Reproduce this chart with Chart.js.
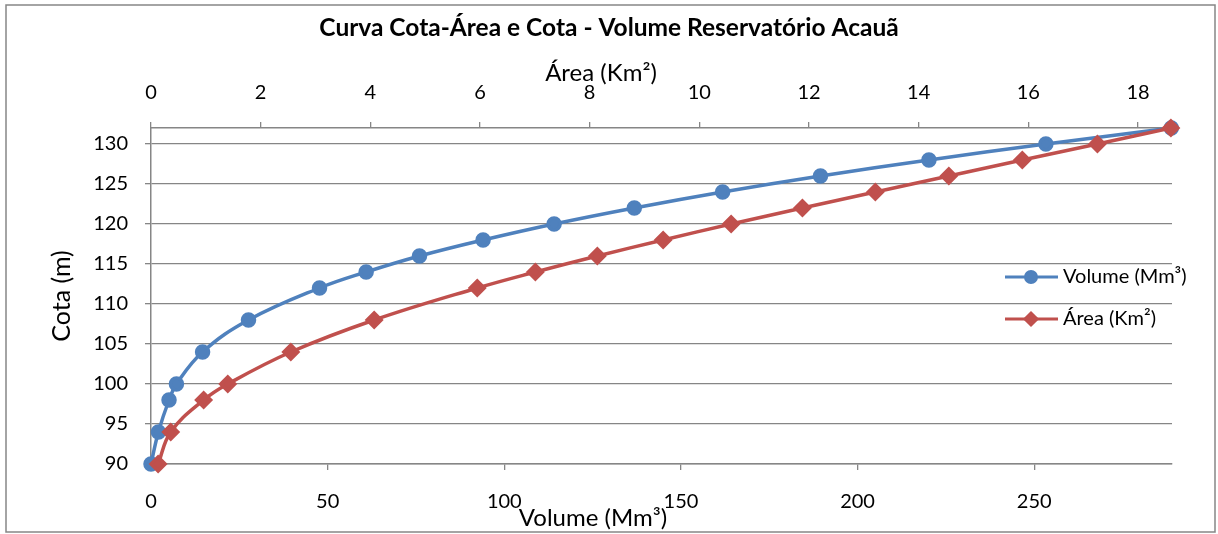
<!DOCTYPE html>
<html><head><meta charset="utf-8">
<script src="https://cdn.jsdelivr.net/npm/chart.js@4"></script>
<style>html,body{margin:0;padding:0;background:#fff}#wrap{position:relative;width:1218px;height:534px}</style>
</head><body><div id="wrap"><canvas id="c" width="1218" height="534"></canvas></div>
<script>
const chartTitle = 'Curva Cota-Área e Cota - Volume Reservatório Acauã';
const cota = [90, 94, 98, 100, 104, 108, 112, 114, 116, 118, 120, 122, 124, 126, 128, 130, 132];
const volume = [0, 2.1, 5.1, 7.2, 14.6, 27.6, 47.7, 60.9, 76.0, 94.0, 114.1, 136.8, 161.8, 189.5, 220.2, 253.3, 288.8];
const area = [0.13, 0.36, 0.96, 1.40, 2.55, 4.07, 5.95, 7.01, 8.14, 9.34, 10.58, 11.88, 13.21, 14.55, 15.89, 17.26, 18.6];
const volumeTicks = [0, 50, 100, 150, 200, 250];
const areaTicks = [0, 2, 4, 6, 8, 10, 12, 14, 16, 18];
const cotaTicks = [90, 95, 100, 105, 110, 115, 120, 125, 130];
const seriesLabels = ['Volume (Mm³)', 'Área (Km²)'];
const axisTitles = {x: 'Volume (Mm³)', x2: 'Área (Km²)', y: 'Cota (m)'};

const BLUE = '#4F81BD', RED = '#C0504D', GRID = '#868686';
const FONT = 'Lato';
Chart.defaults.font.family = FONT;
Chart.defaults.color = '#000';

const frame = {
  id: 'frame',
  beforeDraw(chart) {
    const c = chart.ctx;
    c.save();
    c.fillStyle = '#fff';
    c.fillRect(0, 0, chart.width, chart.height);
    c.strokeStyle = GRID; c.lineWidth = 1.5;
    c.strokeRect(6, 5, 1209, 527);
    c.restore();
  }
};

// Horizontal axis titles, placed like the original (slightly left of the plot centre)
const axisTitlePlugin = {
  id: 'axisTitles',
  afterDraw(chart) {
    const c = chart.ctx;
    c.save();
    c.fillStyle = '#000';
    c.font = '24px ' + FONT;
    c.textAlign = 'center'; c.textBaseline = 'middle';
    c.fillText(chart.scales.x2.options.title.text, 601, 73);
    c.fillText(chart.scales.x.options.title.text, 593, 518);
    c.restore();
  }
};

const legendPlugin = {
  id: 'customLegend',
  afterDraw(chart) {
    const c = chart.ctx;
    const ys = [277, 319];
    chart.data.datasets.forEach((ds, i) => {
      const y = ys[i];
      c.save();
      c.strokeStyle = ds.borderColor; c.lineWidth = 3;
      c.beginPath(); c.moveTo(1005, y); c.lineTo(1058, y); c.stroke();
      c.fillStyle = ds.borderColor; c.strokeStyle = ds.borderColor;
      Chart.helpers.drawPoint(c, {pointStyle: ds.pointStyle, radius: i === 0 ? 5.5 : 6, borderWidth: 1}, 1031, y);
      c.fill();
      c.fillStyle = '#000';
      c.font = '20px ' + FONT;
      c.textAlign = 'left'; c.textBaseline = 'middle';
      c.fillText(ds.label, 1063, y);
      c.restore();
    });
  }
};

const setTicks = (arr) => (scale) => { scale.ticks = arr.map(v => ({value: v})); };

new Chart(document.getElementById('c'), {
  type: 'line',
  data: {
    datasets: [
      {
        label: seriesLabels[0],
        data: cota.map((y, i) => ({x: volume[i], y})),
        xAxisID: 'x', yAxisID: 'y',
        borderColor: BLUE, backgroundColor: BLUE,
        pointBackgroundColor: BLUE, pointBorderColor: BLUE,
        borderWidth: 3.5, pointRadius: 6, pointStyle: 'circle',
        tension: 0.4, clip: false, order: 1
      },
      {
        label: seriesLabels[1],
        data: cota.map((y, i) => ({x: area[i], y})),
        xAxisID: 'x2', yAxisID: 'y',
        borderColor: RED, backgroundColor: RED,
        pointBackgroundColor: RED, pointBorderColor: RED,
        borderWidth: 3.5, pointRadius: 7, pointStyle: 'rectRot',
        tension: 0.4, clip: false, order: 0
      }
    ]
  },
  options: {
    responsive: false, animation: false, devicePixelRatio: 1,
    layout: {padding: {left: 0, top: 0, right: 0, bottom: 0}},
    plugins: {
      legend: {display: false},
      tooltip: {enabled: false},
      title: {display: true, text: chartTitle, font: {size: 24.5, weight: 'bold', family: FONT, lineHeight: 1.2}, color: '#000', padding: {top: 13.7, bottom: 0}}
    },
    scales: {
      x: {
        type: 'linear', position: 'bottom', min: 0, max: 289,
        afterBuildTicks: setTicks(volumeTicks),
        afterFit: (s) => { s.height = 70; },
        grid: {drawOnChartArea: false, drawTicks: true, tickLength: 6, color: GRID, lineWidth: 1.3},
        border: {color: GRID, width: 1.5},
        ticks: {font: {size: 20, lineHeight: 1.2}, padding: 20, maxRotation: 0, color: '#000'},
        title: {display: false, text: axisTitles.x}
      },
      x2: {
        type: 'linear', position: 'top', min: 0, max: 18.62,
        afterBuildTicks: setTicks(areaTicks),
        afterFit: (s) => { s.height = 84.9; },
        grid: {drawOnChartArea: false, drawTicks: true, tickLength: 6, color: GRID, lineWidth: 1.3},
        border: {color: GRID, width: 1.5},
        ticks: {font: {size: 20, lineHeight: 1.2}, padding: 17, maxRotation: 0, color: '#000'},
        title: {display: false, text: axisTitles.x2}
      },
      y: {
        type: 'linear', position: 'left', min: 90, max: 132,
        afterBuildTicks: setTicks(cotaTicks),
        afterFit: (s) => { s.width = 151; },
        grid: {color: GRID, lineWidth: 1.3, tickLength: 6},
        border: {color: GRID, width: 1.5},
        ticks: {font: {size: 20}, padding: 17, color: '#000'},
        title: {display: true, text: axisTitles.y, font: {size: 25, lineHeight: 1.2}, padding: {top: 46.7, bottom: 0}, color: '#000'}
      },
      yRight: {
        type: 'linear', position: 'right', min: 0, max: 1,
        afterFit: (s) => { s.width = 46; },
        grid: {display: false, drawTicks: false},
        border: {display: false},
        ticks: {display: false}
      }
    }
  },
  plugins: [frame, axisTitlePlugin, legendPlugin]
});
</script></body></html>
